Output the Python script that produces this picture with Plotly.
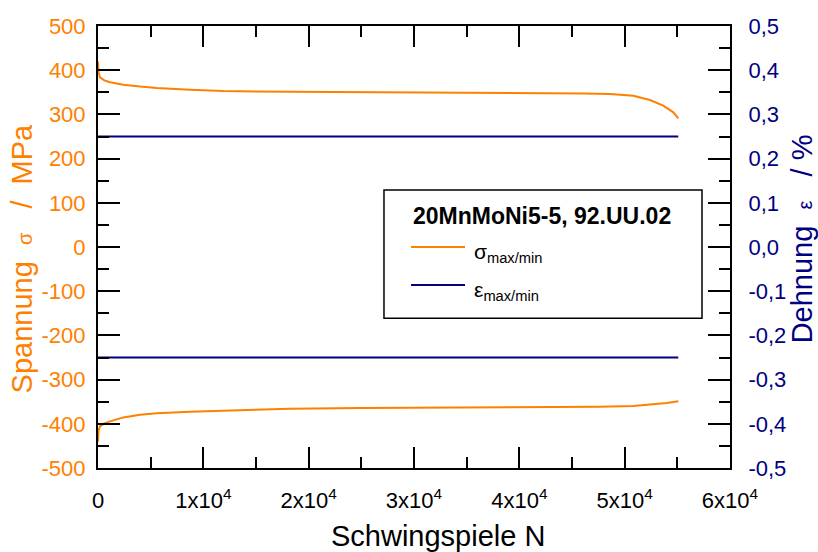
import plotly.graph_objects as go

# ---------------- data ----------------
# stress maximum curve (N, MPa)
n_max = [0, 50, 190, 600, 1140, 2400, 4000, 5570, 8730, 11900, 18200, 25000, 30000,
         35000, 40000, 42900, 46000, 48600, 50820, 52400, 53670, 54620, 55090]
sigma_max = [420, 395, 384, 377, 372.6, 367, 363, 360, 356, 353, 351, 350, 350,
             349.5, 349, 348.5, 347.5, 346, 342, 332.6, 319.7, 304.6, 291]

# stress minimum curve (N, MPa)
n_min = [0, 50, 190, 600, 1140, 2400, 4000, 5570, 8730, 11900, 15060, 18230, 25000,
         30000, 35000, 42900, 47600, 50800, 52400, 54000, 55090]
sigma_min = [-440, -415, -406, -399, -394.6, -385.5, -379.4, -376.4, -372.6, -370.4, -368,
             -365.8, -364.5, -364, -363.5, -362.8, -361.3, -359.8, -356.7, -353, -349.2]

# strain amplitude (N, %)
n_eps = [0, 55090]
eps_max = [0.25, 0.25]
eps_min = [-0.25, -0.25]

# tick labels
x_tickvals = [0, 10000, 20000, 30000, 40000, 50000, 60000]
x_ticktext = ["0", "1x10<sup>4</sup>", "2x10<sup>4</sup>", "3x10<sup>4</sup>",
              "4x10<sup>4</sup>", "5x10<sup>4</sup>", "6x10<sup>4</sup>"]
y_tickvals = [500, 400, 300, 200, 100, 0, -100, -200, -300, -400, -500]
y_ticktext = ["500", "400", "300", "200", "100", "0", "-100", "-200", "-300", "-400", "-500"]
y2_tickvals = [0.5, 0.4, 0.3, 0.2, 0.1, 0.0, -0.1, -0.2, -0.3, -0.4, -0.5]
y2_ticktext = ["0,5", "0,4", "0,3", "0,2", "0,1", "0,0", "-0,1", "-0,2", "-0,3", "-0,4", "-0,5"]

legend_title = "20MnMoNi5-5, 92.UU.02"
sigma_label = "σ<sub>max/min</sub>"
eps_label = "ε<sub>max/min</sub>"

# ---------------- styling ----------------
ORANGE = "#FF8000"
NAVY = "#000080"
FONT = "Liberation Sans, Arial, sans-serif"
nb = "\u00a0"
zw = "\u200b"

fig = go.Figure()
fig.add_trace(go.Scatter(x=n_max, y=sigma_max, mode="lines",
                         line=dict(color=ORANGE, width=2), showlegend=False))
fig.add_trace(go.Scatter(x=n_min, y=sigma_min, mode="lines",
                         line=dict(color=ORANGE, width=2), showlegend=False))
fig.add_trace(go.Scatter(x=n_eps, y=eps_max, mode="lines", yaxis="y2",
                         line=dict(color=NAVY, width=2), showlegend=False))
fig.add_trace(go.Scatter(x=n_eps, y=eps_min, mode="lines", yaxis="y2",
                         line=dict(color=NAVY, width=2), showlegend=False))

fig.update_layout(
    width=818, height=552,
    margin=dict(l=98, r=88, t=26, b=84, pad=0, autoexpand=False),
    paper_bgcolor="white", plot_bgcolor="white",
    font=dict(family=FONT, size=22, color="black"),
    showlegend=False,
    xaxis=dict(
        range=[0, 60000], tickmode="array", tickvals=x_tickvals, ticktext=x_ticktext,
        ticks="inside", ticklen=21, tickwidth=2, tickcolor="black",
        minor=dict(tickmode="linear", tick0=0, dtick=5000, ticks="inside",
                   ticklen=11, tickwidth=2, tickcolor="black"),
        showline=True, linecolor="black", linewidth=2, mirror="ticks",
        showgrid=False, zeroline=False, automargin=False,
        tickfont=dict(size=22, color="black"), ticklabelstandoff=12,
        title=dict(text=zw + nb * 6 + "Schwingspiele N", font=dict(size=29, color="black"),
                   standoff=23),
    ),
    yaxis=dict(
        range=[-500, 500], tickmode="array", tickvals=y_tickvals, ticktext=y_ticktext,
        ticks="inside", ticklen=22, tickwidth=2, tickcolor="black",
        minor=dict(tickmode="linear", tick0=0, dtick=50, ticks="inside",
                   ticklen=11, tickwidth=2, tickcolor="black"),
        showline=True, linecolor="black", linewidth=2,
        showgrid=False, zeroline=False, automargin=False,
        tickfont=dict(size=22, color=ORANGE), ticklabelstandoff=6,
        title=dict(text="Spannung" + nb * 2 + "<span style='font-size:20px'>σ</span>"
                        + nb * 3 + "/" + nb * 2 + "MPa" + nb * 3 + zw,
                   font=dict(size=29, color=ORANGE), standoff=0),
    ),
    yaxis2=dict(
        range=[-0.5, 0.5], overlaying="y", side="right", anchor="x",
        tickmode="array", tickvals=y2_tickvals, ticktext=y2_ticktext,
        ticks="inside", ticklen=22, tickwidth=2, tickcolor="black",
        minor=dict(tickmode="linear", tick0=0, dtick=0.05, ticks="inside",
                   ticklen=11, tickwidth=2, tickcolor="black"),
        showline=True, linecolor="black", linewidth=2,
        showgrid=False, zeroline=False, automargin=False,
        tickfont=dict(size=22, color=NAVY), ticklabelstandoff=12,
        title=dict(text=zw + nb * 2 + "Dehnung" + nb * 2 + "<span style='font-size:20px'>ε</span>"
                        + nb * 3 + "/" + nb + "%",
                   font=dict(size=29, color=NAVY), standoff=4),
    ),
)

# ---------------- legend box (drawn manually) ----------------
dy = 0.0
fig.add_shape(type="rect", xref="paper", yref="paper",
              x0=0.4525, x1=0.9557, y0=0.339 + dy, y1=0.629 + dy,
              line=dict(color="black", width=1.5), fillcolor="white", layer="above")
fig.add_annotation(xref="paper", yref="paper", x=0.7025, y=0.570 + dy,
                   text="<b>" + legend_title + "</b>", showarrow=False,
                   xanchor="center", yanchor="middle",
                   font=dict(size=23, color="black"))
fig.add_shape(type="line", xref="paper", yref="paper",
              x0=0.4953, x1=0.5807, y0=0.500 + dy, y1=0.500 + dy,
              line=dict(color=ORANGE, width=2), layer="above")
fig.add_shape(type="line", xref="paper", yref="paper",
              x0=0.4953, x1=0.5807, y0=0.414 + dy, y1=0.414 + dy,
              line=dict(color=NAVY, width=2), layer="above")
fig.add_annotation(xref="paper", yref="paper", x=0.5918, y=0.487 + dy,
                   text=sigma_label, showarrow=False, xanchor="left", yanchor="middle",
                   font=dict(size=21, color="black"))
fig.add_annotation(xref="paper", yref="paper", x=0.5918, y=0.401 + dy,
                   text=eps_label, showarrow=False, xanchor="left", yanchor="middle",
                   font=dict(size=21, color="black"))

fig.write_html("out.html")
